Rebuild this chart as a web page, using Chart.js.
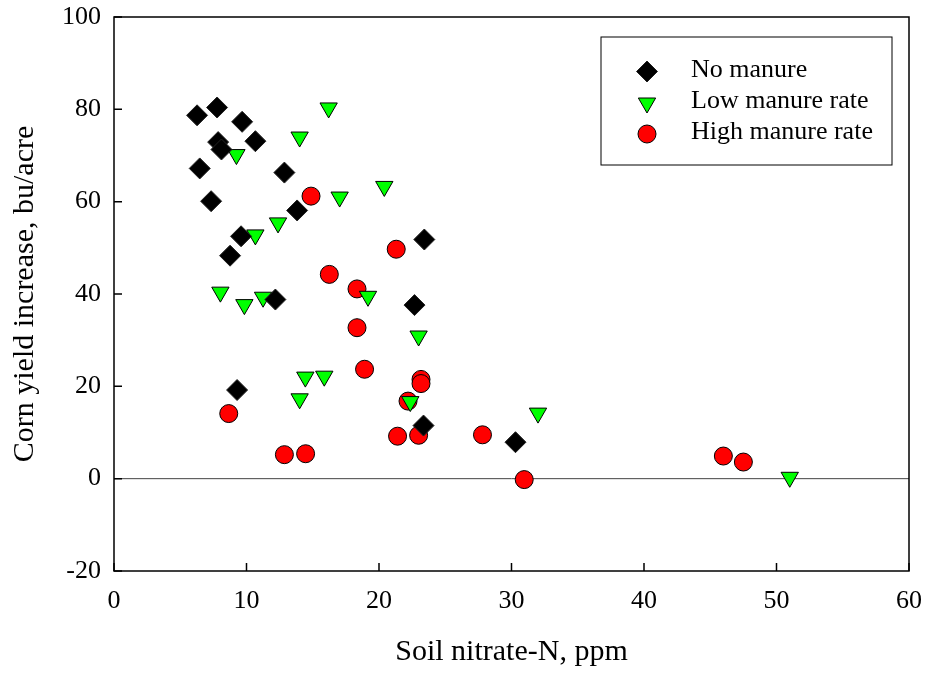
<!DOCTYPE html>
<html>
<head>
<meta charset="utf-8">
<title>Corn yield increase vs soil nitrate-N</title>
<script src="https://cdn.jsdelivr.net/npm/chart.js@4.4.1/dist/chart.umd.min.js"></script>
<style>
  html, body { margin: 0; padding: 0; background: #fff; }
  #wrap { width: 927px; height: 673px; }
</style>
</head>
<body>
<div id="wrap"><canvas id="grafico" width="927" height="673"></canvas></div>
<script>
// Dados (x = nitrato no solo ppm, y = aumento de produção bu/acre)
const seriesLabels = ['No manure', 'Low manure rate', 'High manure rate'];

const noManureX = [6.27, 7.78, 9.67, 7.86, 8.11, 10.67, 6.47, 12.86, 7.33, 13.82, 9.59, 8.76, 23.42, 12.18, 22.68, 9.29, 23.36, 30.3];
const noManureY = [78.7, 80.4, 77.3, 72.9, 71.3, 73.1, 67.2, 66.3, 60.1, 58.1, 52.5, 48.3, 51.8, 38.8, 37.6, 19.2, 11.5, 7.9];

const lowManureX = [9.24, 14.01, 16.2, 17.03, 20.4, 12.38, 10.67, 8.03, 9.84, 11.25, 19.17, 22.99, 14.44, 15.87, 14.01, 22.36, 32.0, 51.0];
const lowManureY = [70.2, 74.0, 80.3, 61.0, 63.3, 55.4, 52.8, 40.4, 37.7, 39.3, 39.5, 30.9, 22.0, 22.2, 17.3, 16.7, 14.2, 0.3];

const highManureX = [14.87, 21.3, 16.25, 18.34, 18.34, 18.91, 23.17, 23.17, 22.19, 8.66, 21.4, 22.99, 27.81, 12.86, 14.46, 30.96, 45.99, 47.5];
const highManureY = [61.2, 49.7, 44.25, 41.1, 32.7, 23.7, 21.5, 20.6, 16.8, 14.1, 9.2, 9.4, 9.5, 5.2, 5.4, -0.2, 4.9, 3.6];

const xTicks = [0, 10, 20, 30, 40, 50, 60];
const yTicks = [-20, 0, 20, 40, 60, 80, 100];

const fonte = '"Liberation Serif", "Times New Roman", serif';

function toPoints(xs, ys) {
    return xs.map((x, i) => ({ x: x, y: ys[i] }));
}

// Moldura, marcas internas, linha do zero e legenda
const moldura = {
    id: 'moldura',
    beforeDatasetsDraw(chart) {
        const { ctx, chartArea: a, scales: { y } } = chart;
        const y0 = y.getPixelForValue(0);
        ctx.save();
        ctx.strokeStyle = '#444';
        ctx.lineWidth = 1;
        ctx.beginPath();
        ctx.moveTo(a.left, y0);
        ctx.lineTo(a.right, y0);
        ctx.stroke();
        ctx.restore();
    },
    afterDatasetsDraw(chart) {
        const { ctx, chartArea: a, scales: { x, y } } = chart;
        ctx.save();
        ctx.strokeStyle = '#000';
        ctx.lineWidth = 1.5;
        ctx.strokeRect(a.left, a.top, a.right - a.left, a.bottom - a.top);

        ctx.beginPath();
        xTicks.forEach(v => {
            const px = x.getPixelForValue(v);
            ctx.moveTo(px, a.bottom);
            ctx.lineTo(px, a.bottom - 8);
        });
        yTicks.forEach(v => {
            const py = y.getPixelForValue(v);
            ctx.moveTo(a.left, py);
            ctx.lineTo(a.left + 8, py);
        });
        ctx.stroke();

        // legenda
        ctx.lineWidth = 1;
        ctx.strokeRect(601, 37, 291, 128);
        const linhas = [71.5, 103, 134];
        ctx.font = '26px ' + fonte;
        ctx.textAlign = 'left';
        ctx.textBaseline = 'alphabetic';
        chart.data.datasets.forEach((ds, i) => {
            ctx.fillStyle = ds.backgroundColor;
            ctx.strokeStyle = ds.borderColor;
            ctx.lineWidth = 1;
            Chart.helpers.drawPoint(ctx, {
                pointStyle: ds.pointStyle,
                radius: ds.pointRadius,
                rotation: ds.rotation || 0,
                borderWidth: 1
            }, 647, linhas[i]);
            ctx.fillStyle = '#000';
            ctx.fillText(ds.label, 691, linhas[i] + 5);
        });
        ctx.restore();
    }
};

new Chart(document.getElementById('grafico'), {
    type: 'scatter',
    data: {
        datasets: [{
            label: seriesLabels[0],
            data: toPoints(noManureX, noManureY),
            pointStyle: 'rectRot',
            pointRadius: 10.5,
            backgroundColor: '#000',
            borderColor: '#222',
            borderWidth: 1
        }, {
            label: seriesLabels[1],
            data: toPoints(lowManureX, lowManureY),
            pointStyle: 'triangle',
            rotation: 180,
            pointRadius: 10,
            backgroundColor: '#00ff00',
            borderColor: '#000',
            borderWidth: 1
        }, {
            label: seriesLabels[2],
            data: toPoints(highManureX, highManureY),
            pointStyle: 'circle',
            pointRadius: 9,
            backgroundColor: '#ff0000',
            borderColor: '#000',
            borderWidth: 1
        }]
    },
    options: {
        responsive: false,
        animation: false,
        devicePixelRatio: 1,
        layout: { padding: { top: 17, right: 18, bottom: 0, left: 0 } },
        plugins: {
            legend: { display: false },
            tooltip: { enabled: false }
        },
        scales: {
            x: {
                type: 'linear',
                min: 0,
                max: 60,
                afterFit: s => { s.height = 102; s.paddingLeft = 0; s.paddingRight = 0; },
                afterBuildTicks: s => { s.ticks = xTicks.map(v => ({ value: v })); },
                ticks: { color: '#000', padding: 15, font: { family: fonte, size: 26 } },
                grid: { display: false, drawTicks: false },
                border: { display: false },
                title: {
                    display: true,
                    text: 'Soil nitrate-N, ppm',
                    color: '#000',
                    font: { family: fonte, size: 30 },
                    padding: { top: 0, bottom: 3 }
                }
            },
            y: {
                type: 'linear',
                min: -20,
                max: 100,
                afterFit: s => { s.width = 114; s.paddingTop = 0; s.paddingBottom = 0; },
                afterBuildTicks: s => { s.ticks = yTicks.map(v => ({ value: v })); },
                ticks: { color: '#000', padding: 13, font: { family: fonte, size: 26 } },
                grid: { display: false, drawTicks: false },
                border: { display: false },
                title: {
                    display: true,
                    text: 'Corn yield increase, bu/acre',
                    color: '#000',
                    font: { family: fonte, size: 30 },
                    padding: { top: 7, bottom: 0 }
                }
            }
        }
    },
    plugins: [moldura]
});
</script>
</body>
</html>
